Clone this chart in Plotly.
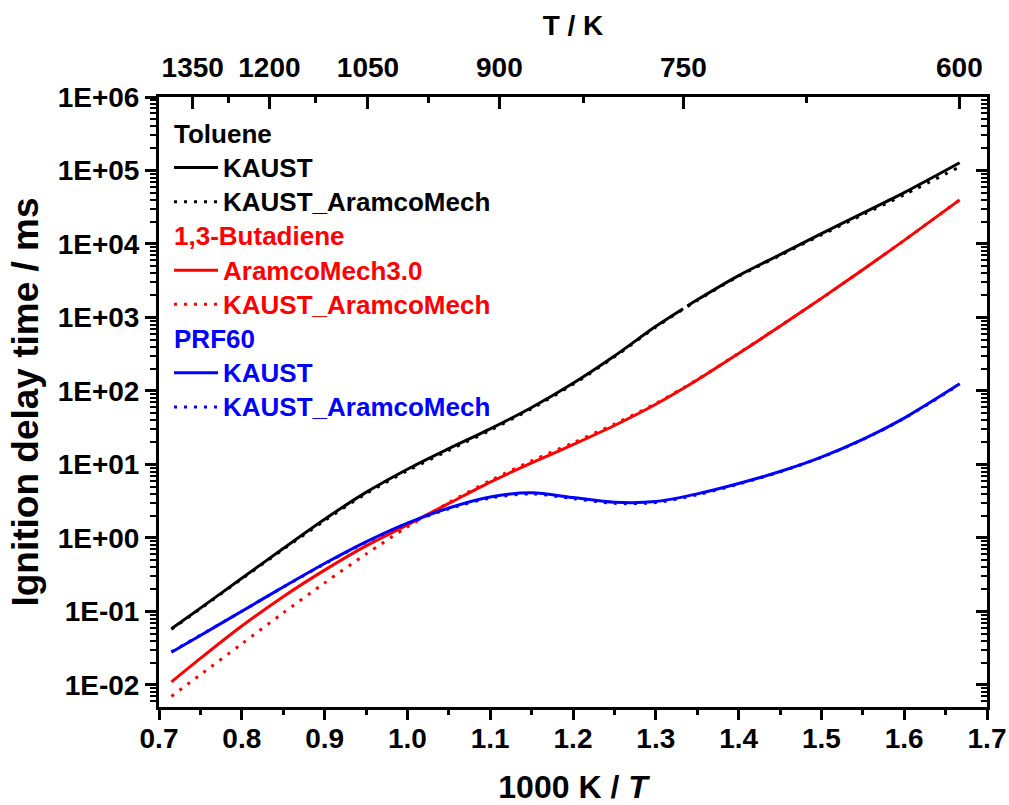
import plotly.graph_objects as go

# 1000 K / T grid shared by the simulated ignition-delay curves
inv_T = [0.715, 0.75, 0.8, 0.85, 0.9, 0.95, 1.0, 1.05, 1.1, 1.15, 1.2,
         1.25, 1.3, 1.35, 1.4, 1.45, 1.5, 1.55, 1.6, 1.667]

# Toluene, KAUST mechanism (two simulation ranges split near 750 K)
tol_kaust_x = [0.715, 0.75, 0.8, 0.85, 0.9, 0.95, 1.0, 1.05, 1.1, 1.15, 1.2,
               1.25, 1.3, 1.333, None, 1.338, 1.35, 1.4, 1.45, 1.5, 1.55, 1.6, 1.667]
tol_kaust = [0.058, 0.111, 0.283, 0.72, 1.8, 4.17, 8.61, 16.4, 30.5, 59.6, 127,
             299, 759, 1318, None, 1429, 1738, 3715, 7160, 13800, 26300, 50100, 127600]
tol_aramco = [0.057, 0.109, 0.277, 0.70, 1.72, 4.0, 8.2, 15.6, 29.2, 57.5, 123,
              291, 740, 1700, 3630, 6980, 13300, 25000, 46800, 112000]

# 1,3-Butadiene
but_aramco3 = [0.011, 0.0230, 0.0634, 0.159, 0.365, 0.780, 1.51, 2.95, 5.75, 10.5, 18.6,
               33.9, 66, 141, 324, 759, 1820, 4470, 11200, 39800]
but_kaust_aramco = [0.0070, 0.0138, 0.0363, 0.0955, 0.245, 0.603, 1.41, 3.02, 6.03, 11.2, 19.7,
                    35.5, 67.6, 143, 326, 762, 1820, 4470, 11200, 39800]

# PRF60
prf_kaust = [0.0279, 0.0471, 0.1007, 0.2153, 0.4498, 0.887, 1.596, 2.559, 3.614, 4.121, 3.548,
             3.055, 3.126, 3.98, 5.50, 8.02, 12.6, 21.9, 42.7, 125.0]
prf_kaust_aramco = [0.0282, 0.0475, 0.1005, 0.2140, 0.4450, 0.875, 1.57, 2.50, 3.50, 3.98, 3.44,
                    2.96, 3.03, 3.88, 5.40, 7.95, 12.5, 21.8, 42.4, 123.0]

# top axis: temperatures
T_major = [1350, 1200, 1050, 900, 750, 600]
T_minor = [1275, 1125, 975, 825, 675]

# left axis decades
y_decades = [-2, -1, 0, 1, 2, 3, 4, 5, 6]
y_ticktext = ["1E-02", "1E-01", "1E+00", "1E+01", "1E+02", "1E+03", "1E+04", "1E+05", "1E+06"]

FONT = "Arial, Liberation Sans, Helvetica, sans-serif"
BLACK, RED, BLUE = "#000000", "#ff0000", "#0000ff"
DOT = "3px,7px"
LW = 3


def label(text, color):
    return f"<span style='color:{color};font-size:26px'>{text}</span>"


fig = go.Figure()

series = [
    (tol_kaust_x, tol_kaust, BLACK, "solid", "KAUST", "tol", "Toluene"),
    (inv_T, tol_aramco, BLACK, DOT, "KAUST_AramcoMech", "tol", "Toluene"),
    (inv_T, but_aramco3, RED, "solid", "AramcoMech3.0", "but", "1,3-Butadiene"),
    (inv_T, but_kaust_aramco, RED, DOT, "KAUST_AramcoMech", "but", "1,3-Butadiene"),
    (inv_T, prf_kaust, BLUE, "solid", "KAUST", "prf", "PRF60"),
    (inv_T, prf_kaust_aramco, BLUE, DOT, "KAUST_AramcoMech", "prf", "PRF60"),
]

for xs, ys, color, dash, name, group, gtitle in series:
    fig.add_trace(go.Scatter(
        x=xs, y=ys, mode="lines",
        line=dict(color=color, width=LW, dash=dash, shape="spline", smoothing=0.8),
        connectgaps=False,
        name=label(name, color),
        legendgroup=group,
        legendgrouptitle=dict(text=label(gtitle, color),
                              font=dict(color=color, size=24, family=FONT, weight="bold")),
    ))

# helper trace so the secondary (top / right) axes are drawn
fig.add_trace(go.Scatter(x=[inv_T[0], inv_T[-1]], y=[1, 1], xaxis="x2", yaxis="y2",
                         mode="lines", line=dict(width=0), opacity=0,
                         showlegend=False, hoverinfo="skip"))

tickfont = dict(family=FONT, size=28, color="black", weight="bold")
y_minor_vals = [m * 10 ** d for d in [-3] + y_decades for m in range(2, 10)]

fig.update_layout(
    width=1009, height=805,
    margin=dict(l=159, r=22, t=97, b=98),
    paper_bgcolor="white", plot_bgcolor="white",
    font=dict(family=FONT, color="black"),
    showlegend=True,
    legend=dict(
        x=0.0121, y=0.9766, xanchor="left", yanchor="top",
        bgcolor="rgba(0,0,0,0)", borderwidth=0,
        tracegroupgap=0, itemwidth=44,
        font=dict(family=FONT, size=24, color="black", weight="bold"),
    ),
    xaxis=dict(
        range=[0.7, 1.7], dtick=0.1, tick0=0.7, tickformat=".1f",
        showline=True, linecolor="black", linewidth=3,
        ticks="outside", ticklen=10, tickwidth=3, tickcolor="black",
        ticklabelstandoff=-6,
        minor=dict(dtick=0.05, ticks="outside", ticklen=5, tickwidth=3, tickcolor="black"),
        showgrid=False, zeroline=False, mirror=False, automargin=False,
        tickfont=tickfont,
        title=dict(text="1000 K / <i>T</i>", font=dict(family=FONT, size=32, weight="bold"), standoff=32),
    ),
    xaxis2=dict(
        overlaying="x", side="top", anchor="y", range=[0.7, 1.7],
        tickmode="array", tickvals=[1000 / t for t in T_major], ticktext=[str(t) for t in T_major],
        showline=True, linecolor="black", linewidth=3,
        ticks="inside", ticklen=12, tickwidth=3, tickcolor="black",
        ticklabelstandoff=6,
        minor=dict(tickmode="array", tickvals=[1000 / t for t in T_minor],
                   ticks="inside", ticklen=6, tickwidth=3, tickcolor="black"),
        showgrid=False, zeroline=False, automargin=False,
        tickfont=tickfont,
        title=dict(text="T / K", font=dict(family=FONT, size=28, weight="bold"), standoff=8),
    ),
    yaxis=dict(
        type="log", range=[-2.3, 6],
        tickmode="array", tickvals=[10 ** d for d in y_decades], ticktext=y_ticktext,
        showline=True, linecolor="black", linewidth=3,
        ticks="outside", ticklen=11, tickwidth=3, tickcolor="black",
        minor=dict(tickmode="array", tickvals=y_minor_vals,
                   ticks="outside", ticklen=6, tickwidth=2, tickcolor="black"),
        showgrid=False, zeroline=False, automargin=False,
        tickfont=tickfont,
        title=dict(text="Ignition delay time / ms", font=dict(family=FONT, size=37, weight="bold"), standoff=8),
    ),
    yaxis2=dict(
        type="log", range=[-2.3, 6], overlaying="y", side="right", anchor="x",
        tickmode="array", tickvals=[10 ** d for d in y_decades], showticklabels=False,
        showline=True, linecolor="black", linewidth=3,
        ticks="inside", ticklen=11, tickwidth=3, tickcolor="black",
        minor=dict(tickmode="array", tickvals=y_minor_vals,
                   ticks="inside", ticklen=6, tickwidth=2, tickcolor="black"),
        showgrid=False, zeroline=False, automargin=False,
    ),
)

fig.write_html("out.html")
